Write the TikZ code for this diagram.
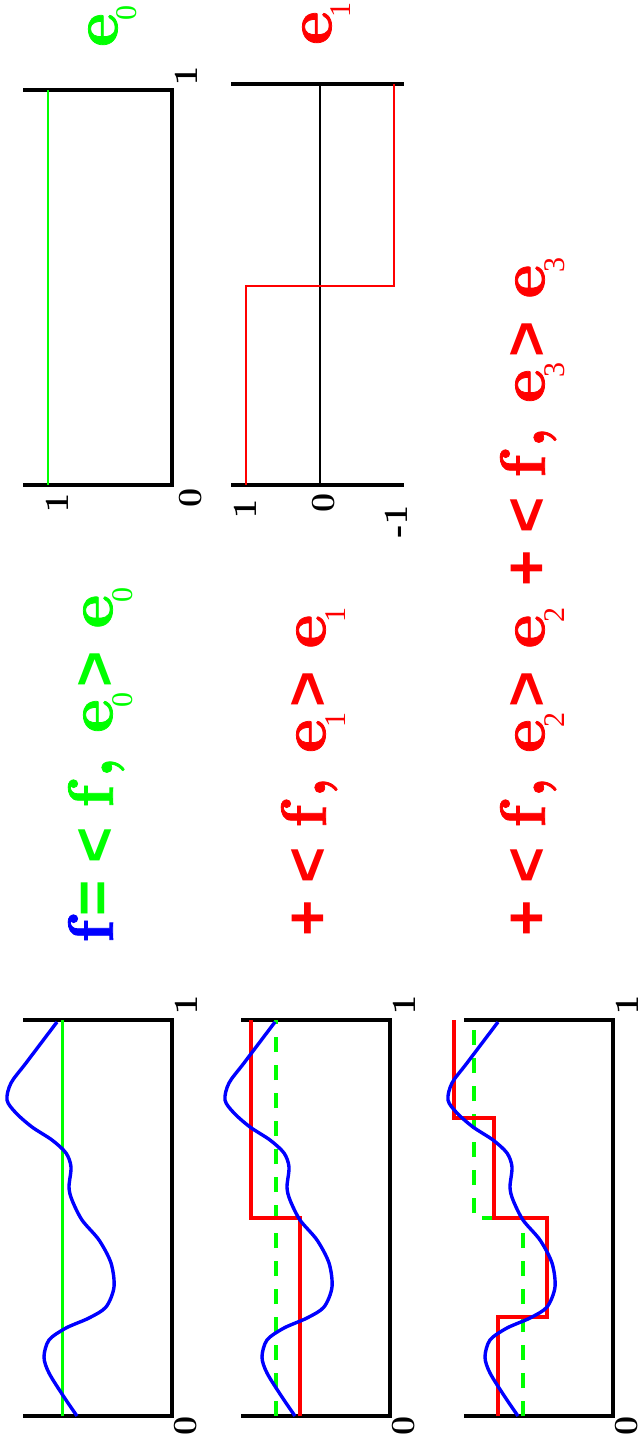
\documentclass[tikz,border=0pt]{standalone}
\usepackage{fontspec}
\newfontfamily\opfont{Liberation Sans}
\newfontfamily\idxfont{Liberation Serif}
\newfontfamily\letterfont{lmroman10-bold.otf}[FakeBold=1.2]

\begin{document}
\begin{tikzpicture}[x=0.5pt, y=-0.5pt,
    boxline/.style={line width=1.6pt},
    fcurve/.style={blue, line width=1.7pt},
    stair/.style={red, line width=1.6pt},
    prevstair/.style={green, line width=1.6pt, dash pattern=on 7.5pt off 6.5pt},
    letter/.style={rotate=90, inner sep=0pt, font=\fontsize{32}{38}\selectfont\letterfont},
    oper/.style={rotate=90, inner sep=0pt, font=\fontsize{31}{36}\selectfont\opfont\bfseries},
    idx/.style={rotate=90, inner sep=0pt, font=\fontsize{15}{17}\selectfont\idxfont},
    ticklbl/.style={rotate=90, inner sep=0pt, font=\fontsize{17}{20}\selectfont\bfseries}]
  \useasboundingbox (0,0) rectangle (642,1448);

  % basis functions e0 and e1
  \draw[boxline] (23,90) -- (172,90) -- (172,485) -- (23,485);
  \draw[green, line width=1.4pt] (48,90) -- (48,485);
  \draw[boxline] (231,84) -- (404,84);
  \draw[boxline] (231,485) -- (404,485);
  \draw[line width=1.2pt] (320,84) -- (320,485);
  \draw[red, line width=1.4pt] (394,84) -- (394,286) -- (246,286) -- (246,485);

  \node[letter, green] (e0) at (103,30) {e};
  \node[idx, green] (e0i) at (127,12.5) {0};
  \node[letter, red] (e1) at (317,28) {e};
  \node[idx, red] (e1i) at (341,10) {1};

  \node[ticklbl] (e0top) at (186.5,76) {1};
  \node[ticklbl] (e0bot) at (191,497.5) {0};
  \node[ticklbl] (e0val) at (57.5,502.5) {1};
  \node[ticklbl] (e1pos) at (245.5,508.5) {1};
  \node[ticklbl] (e1zero) at (324,502.5) {0};
  \node[ticklbl] (e1neg) at (396,521.5) {-1};

  % f and its approximations
  \foreach \dx/\r in {0/a, 218/b, 441/c} {
    \draw[boxline] (23+\dx,1020) -- (172+\dx,1020) -- (172+\dx,1416) -- (23+\dx,1416);
    \node[ticklbl] (one\r) at (186+\dx,1005) {1};
    \node[ticklbl] (zero\r) at (186+\dx,1426) {0};
  }
  \draw[green, line width=1.5pt] (62,1416) -- (62,1020);
  \draw[prevstair] (276,1416) -- (276,1020);
  \draw[stair] (300,1416) -- (300,1218) -- (251,1218) -- (251,1020);
  \draw[prevstair] (523,1416) -- (523,1218) -- (474,1218) -- (474,1020);
  \draw[stair] (498,1416) -- (498,1317) -- (547,1317) -- (547,1218) -- (494,1218)
    -- (494,1118) -- (454,1118) -- (454,1020);
  \foreach \dx in {0, 218, 441}
    \draw[fcurve, shift={(\dx,0)}] plot[smooth] coordinates {(77,1416) (64,1397)
      (49,1373) (44,1357) (49,1340) (66,1328) (89,1318) (106,1307) (114,1287)
      (111,1263) (99,1240) (82,1220) (72,1200) (69,1187) (71,1167) (66,1153)
      (52,1140) (32,1127) (16,1113) (7,1100) (11,1083) (26,1063) (57,1022)};

  % expansion in the basis
  \node[letter, blue] (f) at (90.5,931.5) {f};
  \foreach \k/\dx/\dy/\col/\lead in {0/-213/20/green/=, 1/0/0/red/+, 2/219/0/red/+, 3/219/350/red/+} {
    \node[oper, \col] (lead\k) at (310+\dx,918-\dy) {\lead};
    \node[oper, \col] (lt\k) at (310+\dx,865-\dy) {<};
    \node[letter, \col] (f\k) at (303.5+\dx,816.5-\dy) {f};
    \node[letter, \col] (comma\k) at (326+\dx,787.5-\dy) {,};
    \node[letter, \col] (ein\k) at (311+\dx,736-\dy) {e};
    \node[idx, \col] (iin\k) at (336+\dx,720-\dy) {\k};
    \node[oper, \col] (gt\k) at (310+\dx,689-\dy) {>};
    \node[letter, \col] (eout\k) at (311+\dx,631.5-\dy) {e};
    \node[idx, \col] (iout\k) at (336+\dx,615-\dy) {\k};
  }
\end{tikzpicture}
\end{document}
